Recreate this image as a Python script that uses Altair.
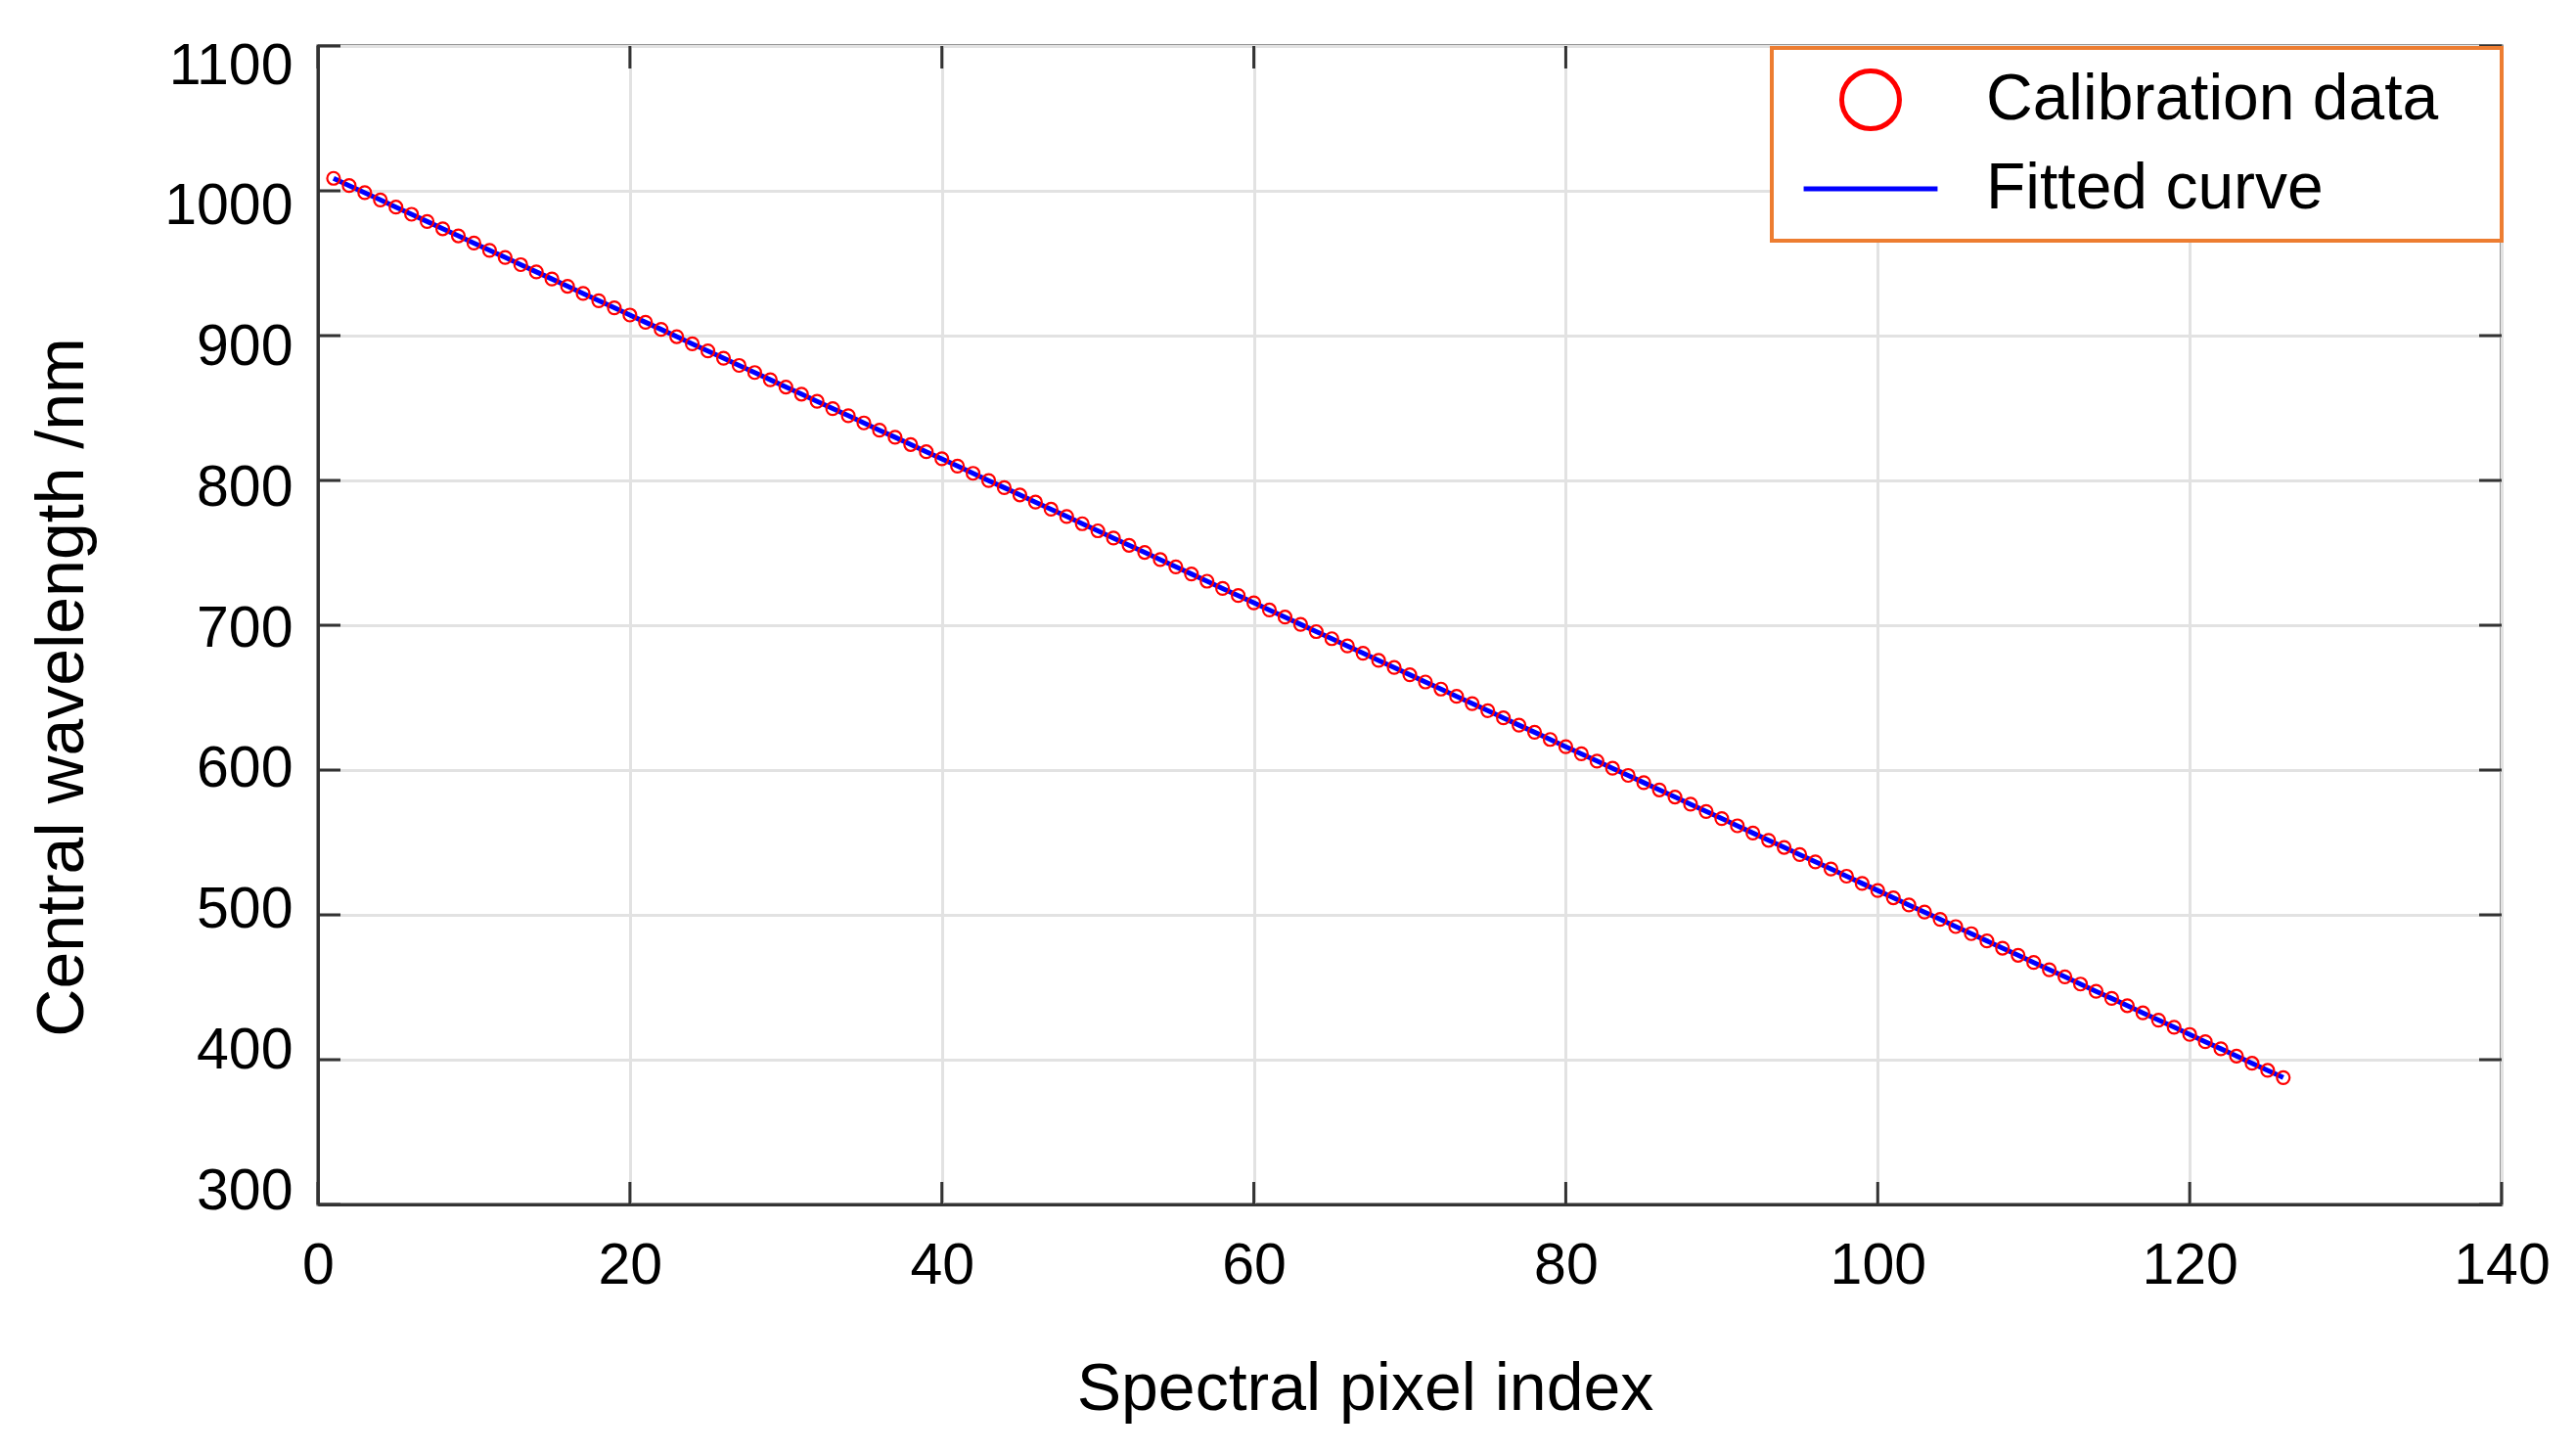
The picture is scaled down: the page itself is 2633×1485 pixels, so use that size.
import altair as alt
import pandas as pd

# ---------------- data ----------------
pixel_index = [
    1, 2, 3, 4, 5, 6, 7, 8, 9, 10, 11, 12, 13, 14, 15, 16, 17, 18, 19, 20,
    21, 22, 23, 24, 25, 26, 27, 28, 29, 30, 31, 32, 33, 34, 35, 36, 37, 38, 39, 40,
    41, 42, 43, 44, 45, 46, 47, 48, 49, 50, 51, 52, 53, 54, 55, 56, 57, 58, 59, 60,
    61, 62, 63, 64, 65, 66, 67, 68, 69, 70, 71, 72, 73, 74, 75, 76, 77, 78, 79, 80,
    81, 82, 83, 84, 85, 86, 87, 88, 89, 90, 91, 92, 93, 94, 95, 96, 97, 98, 99, 100,
    101, 102, 103, 104, 105, 106, 107, 108, 109, 110, 111, 112, 113, 114, 115, 116,
    117, 118, 119, 120, 121, 122, 123, 124, 125, 126,
]

calibration_wavelength = [
    1008.6, 1003.6, 998.7, 993.7, 988.7, 983.8, 978.8, 973.8, 968.9, 963.9,
    958.9, 954.0, 949.0, 944.0, 939.1, 934.1, 929.1, 924.1, 919.2, 914.2,
    909.2, 904.3, 899.3, 894.3, 889.4, 884.4, 879.4, 874.5, 869.5, 864.5,
    859.6, 854.6, 849.6, 844.7, 839.7, 834.7, 829.8, 824.8, 819.8, 814.9,
    809.9, 804.9, 799.9, 795.0, 790.0, 785.0, 780.1, 775.1, 770.1, 765.2,
    760.2, 755.2, 750.3, 745.3, 740.3, 735.4, 730.4, 725.4, 720.5, 715.5,
    710.5, 705.6, 700.6, 695.6, 690.7, 685.7, 680.7, 675.7, 670.8, 665.8,
    660.8, 655.9, 650.9, 645.9, 641.0, 636.0, 631.0, 626.1, 621.1, 616.1,
    611.2, 606.2, 601.2, 596.3, 591.3, 586.3, 581.4, 576.4, 571.4, 566.5,
    561.5, 556.5, 551.5, 546.6, 541.6, 536.6, 531.7, 526.7, 521.7, 516.8,
    511.8, 506.8, 501.9, 496.9, 491.9, 487.0, 482.0, 477.0, 472.1, 467.1,
    462.1, 457.2, 452.2, 447.2, 442.3, 437.3, 432.3, 427.3, 422.4, 417.4,
    412.4, 407.5, 402.5, 397.5, 392.6, 387.6,
]

fitted_wavelength = calibration_wavelength  # fitted curve runs through the data

series_names = ["Calibration data", "Fitted curve"]
x_ticks = [0, 20, 40, 60, 80, 100, 120, 140]
y_ticks = [300, 400, 500, 600, 700, 800, 900, 1000, 1100]

# ---------------- tables ----------------
calib_df = pd.DataFrame({"pixel": pixel_index, "wl": calibration_wavelength,
                         "series": series_names[0]})
fit_df = pd.DataFrame({"pixel": pixel_index, "wl": fitted_wavelength,
                       "series": series_names[1]})
xt_df = pd.DataFrame({"pixel": x_ticks})
yt_df = pd.DataFrame({"wl": y_ticks})

# ---------------- layout / style ----------------
W, H = 2232, 1184
TICK = 23
FONT = "Liberation Sans"
BOX = "#333333"

xscale = alt.Scale(domain=[0, 140], nice=False, zero=False)
yscale = alt.Scale(domain=[300, 1100], nice=False, zero=False)

x_axis = alt.Axis(values=x_ticks, title="Spectral pixel index", grid=True,
                  ticks=False, tickSize=0, labelPadding=33, labelFlush=False,
                  format="d",
                  titleX=1070, titleY=209, titleAlign="center",
                  titleBaseline="alphabetic")
# the reference's y labels sit slightly closer together than their grid lines
y_axis = alt.Axis(values=y_ticks, title="Central wavelength /nm", grid=True,
                  ticks=False, tickSize=0, labelPadding=26, labelFlush=False,
                  format="d",
                  labelOffset={"expr": "3 + (datum.value - 700) * 0.0425"},
                  titleAngle=270, titleX=-241, titleY=655,
                  titleAlign="center", titleBaseline="alphabetic")

X = alt.X("pixel:Q", scale=xscale, axis=x_axis)
Y = alt.Y("wl:Q", scale=yscale, axis=y_axis)

line = alt.Chart(fit_df).mark_line(color="#0000ff", strokeWidth=5).encode(
    x=X, y=Y,
)

legend = alt.Legend(title="\u00a0", titleOrient="right", titleFontSize=8,
                    titlePadding=45,
                    orient="none", legendX=1486, legendY=2,
                    strokeColor="#ED7D31", fillColor="white",
                    padding=20, rowPadding=18, symbolSize=3481,
                    symbolStrokeWidth=5, symbolOffset=48, labelOffset=85,
                    labelFont=FONT, labelFontSize=66, labelColor="black",
                    labelLimit=0)

points = alt.Chart(calib_df).mark_point(
    filled=False, size=169, strokeWidth=2.2, opacity=1
).encode(
    x=X, y=Y,
    color=alt.Color("series:N",
                    scale=alt.Scale(domain=series_names,
                                    range=["#ff0000", "#0000ff"]),
                    legend=legend),
    shape=alt.Shape("series:N",
                    scale=alt.Scale(domain=series_names,
                                    range=["circle", "M-2.32,0L2.32,0"]),
                    legend=legend),
)

tick_bottom = alt.Chart(xt_df).mark_rule(color=BOX, strokeWidth=3).encode(
    x=X, y=alt.value(H), y2=alt.value(H - TICK))
tick_top = alt.Chart(xt_df).mark_rule(color=BOX, strokeWidth=3).encode(
    x=X, y=alt.value(0), y2=alt.value(TICK))
tick_left = alt.Chart(yt_df).mark_rule(color=BOX, strokeWidth=3).encode(
    y=Y, x=alt.value(0), x2=alt.value(TICK))
tick_right = alt.Chart(yt_df).mark_rule(color=BOX, strokeWidth=3).encode(
    y=Y, x=alt.value(W - TICK), x2=alt.value(W))

chart = alt.layer(
    line, points, tick_bottom, tick_top, tick_left, tick_right
).properties(
    width=W, height=H,
    autosize=alt.AutoSizeParams(type="none"),
    padding={"left": 317, "top": 39, "right": 68, "bottom": 246},
    background="white",
).configure_view(
    stroke=BOX, strokeWidth=3,
).configure_axis(
    labelFont=FONT, labelFontSize=59, labelColor="black",
    titleFont=FONT, titleFontSize=68, titleColor="black",
    titleFontWeight="normal",
    gridColor="#e2e2e2", gridWidth=3,
    domainColor=BOX, domainWidth=3,
).configure_legend(
    strokeWidth=4,
)

chart.save("out.html", embed_options={"renderer": "svg", "actions": False})
